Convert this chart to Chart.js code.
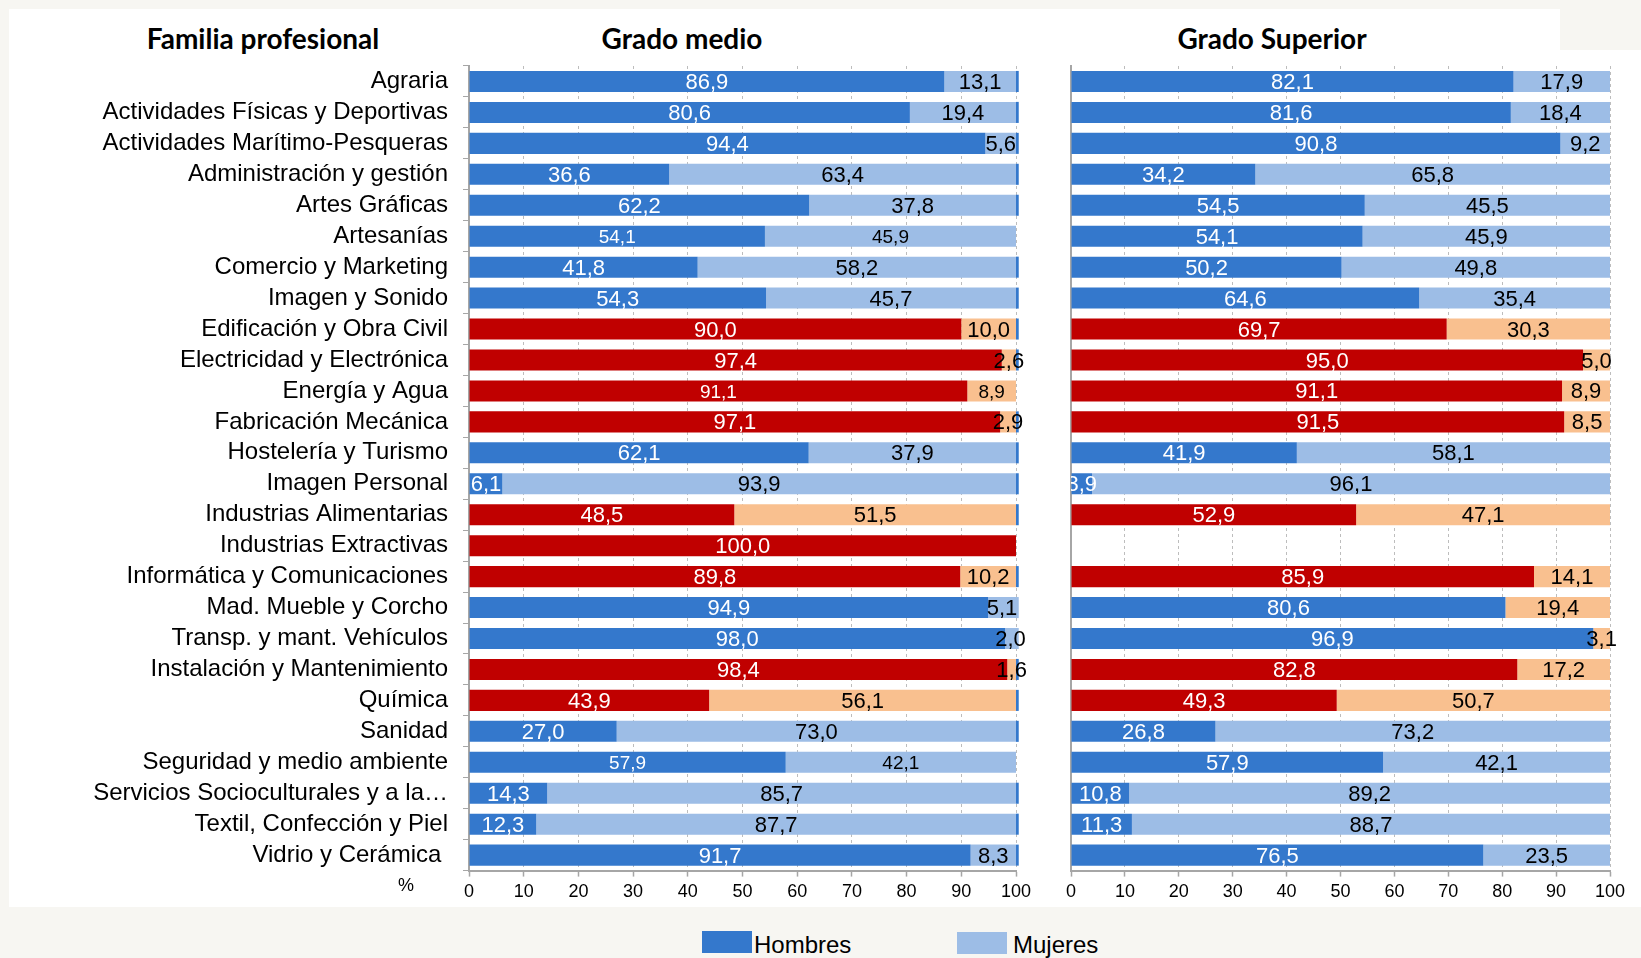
<!DOCTYPE html>
<html><head><meta charset="utf-8">
<script src="https://cdn.jsdelivr.net/npm/chart.js@4.4.0/dist/chart.umd.min.js"></script>
<style>
html,body{margin:0;padding:0;background:#F7F6F2;width:1641px;height:958px;overflow:hidden;position:relative;}
#panel{position:absolute;left:9px;top:9px;width:1632px;height:898px;background:#fff;}
#notch{position:absolute;left:1560px;top:0;width:81px;height:50px;background:#F7F6F2;}
.title{position:absolute;top:38px;font-family:Lato,"Open Sans",sans-serif;font-weight:700;font-size:28px;color:#000;transform:translate(-50%,-50%);white-space:nowrap;}
canvas{position:absolute;top:0;}
#c1{left:0;}
#c2{left:1040px;}
.pct{position:absolute;left:406px;top:885px;transform:translate(-50%,-50%);font-family:"Liberation Sans",Arial,sans-serif;font-size:18px;color:#000;}
.leg{position:absolute;font-family:"Liberation Sans",Arial,sans-serif;font-size:24px;color:#000;top:931px;line-height:27px;white-space:nowrap;}
.box{position:absolute;width:50px;height:22px;}
</style></head>
<body>
<div id="panel"></div>
<div id="notch"></div>
<div class="title" style="left:263px">Familia profesional</div>
<div class="title" style="left:682px">Grado medio</div>
<div class="title" style="left:1272px">Grado Superior</div>
<canvas id="c1" width="1060" height="910"></canvas>
<canvas id="c2" width="601" height="910"></canvas>
<div class="pct">%</div>
<div class="box" style="left:702px;top:931px;background:#3478CC"></div>
<div class="leg" style="left:754px">Hombres</div>
<div class="box" style="left:957px;top:932px;background:#9DBDE6"></div>
<div class="leg" style="left:1013px">Mujeres</div>
<script>
// ---------- DATA ----------
const categories = [
  'Agraria','Actividades Físicas y Deportivas','Actividades Marítimo-Pesqueras','Administración y gestión',
  'Artes Gráficas','Artesanías','Comercio y Marketing','Imagen y Sonido','Edificación y Obra Civil',
  'Electricidad y Electrónica','Energía y Agua','Fabricación Mecánica','Hostelería y Turismo','Imagen Personal',
  'Industrias Alimentarias','Industrias Extractivas','Informática y Comunicaciones','Mad. Mueble y Corcho',
  'Transp. y mant. Vehículos','Instalación y Mantenimiento','Química','Sanidad','Seguridad y medio ambiente',
  'Servicios Socioculturales y a la…','Textil, Confección y Piel','Vidrio y Cerámica'
];
const medioHombres = [86.9,80.6,94.4,36.6,62.2,54.1,41.8,54.3,90.0,97.4,91.1,97.1,62.1,6.1,48.5,100.0,89.8,94.9,98.0,98.4,43.9,27.0,57.9,14.3,12.3,91.7];
const medioMujeres = [13.1,19.4,5.6,63.4,37.8,45.9,58.2,45.7,10.0,2.6,8.9,2.9,37.9,93.9,51.5,0,10.2,5.1,2.0,1.6,56.1,73.0,42.1,85.7,87.7,8.3];
const medioResto   = [0.5,0.5,0.5,0.5,0.5,0,0.5,0.5,0.5,0.5,0,0.5,0.5,0.5,0.5,0,0.5,0.5,0.5,0.5,0.5,0.5,0,0.5,0.5,0.5];
const superiorHombres = [82.1,81.6,90.8,34.2,54.5,54.1,50.2,64.6,69.7,95.0,91.1,91.5,41.9,3.9,52.9,null,85.9,80.6,96.9,82.8,49.3,26.8,57.9,10.8,11.3,76.5];
const superiorMujeres = [17.9,18.4,9.2,65.8,45.5,45.9,49.8,35.4,30.3,5.0,8.9,8.5,58.1,96.1,47.1,null,14.1,19.4,3.1,17.2,50.7,73.2,42.1,89.2,88.7,23.5];
const xTicks = [0,10,20,30,40,50,60,70,80,90,100];

// families drawn in red / peach
const rojasMedio = ['Edificación y Obra Civil','Electricidad y Electrónica','Energía y Agua','Fabricación Mecánica',
  'Industrias Alimentarias','Industrias Extractivas','Informática y Comunicaciones','Instalación y Mantenimiento','Química'];
const rojasSuperior = ['Edificación y Obra Civil','Electricidad y Electrónica','Energía y Agua','Fabricación Mecánica',
  'Industrias Alimentarias','Informática y Comunicaciones','Instalación y Mantenimiento','Química'];
const peachMujeresSuperior = rojasSuperior.concat(['Mad. Mueble y Corcho','Transp. y mant. Vehículos']);
const smallLabelsMedio = ['Artesanías','Energía y Agua','Seguridad y medio ambiente'];

// ---------- STYLE ----------
const BLUE='#3478CC', LBLUE='#9DBDE6', RED='#C00000', PEACH='#F9C08F', AXIS='#A6A6A6', GRID='#BDBDBD';
const fmt = v => v.toFixed(1).replace('.', ',');
Chart.defaults.font.family = '"Liberation Sans", Arial, sans-serif';
Chart.defaults.color = '#000';

const labelPlugin = {
  id:'barLabels',
  afterDatasetsDraw(chart, args, opts){
    const {ctx, chartArea} = chart;
    ctx.save();
    ctx.beginPath(); ctx.rect(chartArea.left, 0, chart.width - chartArea.left, chart.height); ctx.clip();
    [0,1].forEach(di => {
      const meta = chart.getDatasetMeta(di);
      const ds = chart.data.datasets[di];
      meta.data.forEach((el, i) => {
        const v = ds.data[i];
        if (v == null || v === 0) return;
        const small = (opts.small || []).includes(categories[i]);
        ctx.font = (small ? 19 : 22) + 'px "Liberation Sans", Arial, sans-serif';
        ctx.fillStyle = di === 0 ? '#fff' : '#000';
        ctx.textAlign = 'center'; ctx.textBaseline = 'middle';
        ctx.fillText(fmt(v), (el.x + el.base) / 2, el.y + 1.5);
      });
    });
    ctx.restore();
  }
};

function xScale(){
  return {
    type:'linear', stacked:true, min:0, max:100,
    afterBuildTicks: s => { s.ticks = xTicks.map(v => ({value:v})); },
    afterFit: s => { s.height = 39.4; },
    ticks:{ font:{size:18}, color:'#000', padding:4.5, maxRotation:0 },
    grid:{ color:GRID, lineWidth:1, tickColor:AXIS, tickLength:6, tickBorderDash:[], tickWidth:1.5 },
    border:{ display:true, color:AXIS, width:2, dash:[3,3] }
  };
}
const common = {
  responsive:false, animation:false, indexAxis:'y'
};

// Grado medio
new Chart(document.getElementById('c1'), {
  type:'bar',
  data:{
    labels:categories,
    datasets:[
      {label:'Hombres', data:medioHombres, backgroundColor:categories.map(c => rojasMedio.includes(c)?RED:BLUE), barPercentage:0.68, categoryPercentage:1, borderWidth:0},
      {label:'Mujeres', data:medioMujeres, backgroundColor:categories.map(c => rojasMedio.includes(c)?PEACH:LBLUE), barPercentage:0.68, categoryPercentage:1, borderWidth:0},
      {label:'', data:medioResto, backgroundColor:categories.map(c => (c==='Mad. Mueble y Corcho'||c==='Transp. y mant. Vehículos')?LBLUE:BLUE), barPercentage:0.68, categoryPercentage:1, borderWidth:0, clip:false}
    ]
  },
  options:Object.assign({}, common, {
    layout:{padding:{left:0, right:44, top:66, bottom:0}},
    plugins:{ legend:{display:false}, tooltip:{enabled:false}, barLabels:{small:smallLabelsMedio} },
    scales:{
      x:xScale(),
      y:{
        type:'category', stacked:true, offset:true,
        afterFit: s => { s.width = 469; },
        ticks:{ font:{size:24}, color:'#000', padding:15, autoSkip:false,
          callback:(v,i) => categories[i] === 'Vidrio y Cerámica' ? categories[i] + ' ' : categories[i] },
        grid:{ drawOnChartArea:false, drawTicks:true, tickLength:6, color:AXIS, offset:true },
        border:{ display:true, color:AXIS, width:2 }
      }
    }
  }),
  plugins:[labelPlugin]
});

// Grado superior
new Chart(document.getElementById('c2'), {
  type:'bar',
  data:{
    labels:categories,
    datasets:[
      {label:'Hombres', data:superiorHombres, backgroundColor:categories.map(c => rojasSuperior.includes(c)?RED:BLUE), barPercentage:0.68, categoryPercentage:1, borderWidth:0},
      {label:'Mujeres', data:superiorMujeres, backgroundColor:categories.map(c => peachMujeresSuperior.includes(c)?PEACH:LBLUE), barPercentage:0.68, categoryPercentage:1, borderWidth:0}
    ]
  },
  options:Object.assign({}, common, {
    layout:{padding:{left:0, right:31, top:66, bottom:0}},
    plugins:{ legend:{display:false}, tooltip:{enabled:false}, barLabels:{} },
    scales:{
      x:xScale(),
      y:{
        type:'category', stacked:true, offset:true,
        afterFit: s => { s.width = 31; },
        ticks:{ display:false },
        grid:{ display:false },
        border:{ display:true, color:AXIS, width:2 }
      }
    }
  }),
  plugins:[labelPlugin]
});
</script>
</body></html>
